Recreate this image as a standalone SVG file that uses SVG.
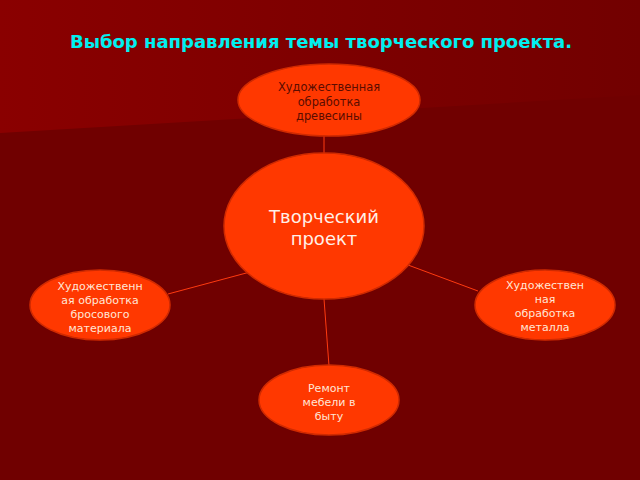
<svg xmlns="http://www.w3.org/2000/svg" width="640" height="480" viewBox="0 0 640 480">
<defs>
<linearGradient id="topg" x1="0" y1="0" x2="1" y2="0">
<stop offset="0" stop-color="#8a0000"/>
<stop offset="1" stop-color="#720000"/>
</linearGradient>
<style>
.node{fill:#ff3800;stroke:#d02a00;stroke-width:1.5}
.t{font-family:"DejaVu Sans",sans-serif;font-size:11px;text-anchor:middle;fill:#ffe6d6}
.dark{fill:#5a0c00;font-size:11.4px}
.big{font-size:18px;fill:#fff0e8}
.conn line{stroke:#ff3a10;stroke-width:1}
</style>
</defs>
<rect width="640" height="480" fill="#700000"/>
<polygon points="0,0 640,0 640,95 0,133" fill="url(#topg)"/>
<text x="321" y="48" font-family="DejaVu Sans,sans-serif" font-size="18" font-weight="bold" fill="#00f0f0" text-anchor="middle">Выбор направления темы творческого проекта.</text>
<g id="connectors" class="conn">
<line x1="324" y1="136" x2="324" y2="154"/>
<line x1="168" y1="294" x2="250" y2="272"/>
<line x1="408" y1="265" x2="478" y2="291"/>
<line x1="324" y1="299" x2="329" y2="366"/>
</g>
<g id="n-top">
<ellipse class="node" cx="329" cy="100" rx="91" ry="36"/>
<text class="t dark" x="329" y="91">Художественная</text>
<text class="t dark" x="329" y="106">обработка</text>
<text class="t dark" x="329" y="120">древесины</text>
</g>
<g id="n-center">
<ellipse class="node" cx="324" cy="226" rx="100" ry="73"/>
<text class="t big" x="324" y="223">Творческий</text>
<text class="t big" x="324" y="245">проект</text>
</g>
<g id="n-left">
<ellipse class="node" cx="100" cy="305" rx="70" ry="35"/>
<text class="t" x="100" y="290">Художественн</text>
<text class="t" x="100" y="304">ая обработка</text>
<text class="t" x="100" y="318">бросового</text>
<text class="t" x="100" y="332">материала</text>
</g>
<g id="n-right">
<ellipse class="node" cx="545" cy="305" rx="70" ry="35"/>
<text class="t" x="545" y="289">Художествен</text>
<text class="t" x="545" y="303">ная</text>
<text class="t" x="545" y="317">обработка</text>
<text class="t" x="545" y="331">металла</text>
</g>
<g id="n-bottom">
<ellipse class="node" cx="329" cy="400" rx="70" ry="35"/>
<text class="t" x="329" y="392">Ремонт</text>
<text class="t" x="329" y="406">мебели в</text>
<text class="t" x="329" y="420">быту</text>
</g>
</svg>
